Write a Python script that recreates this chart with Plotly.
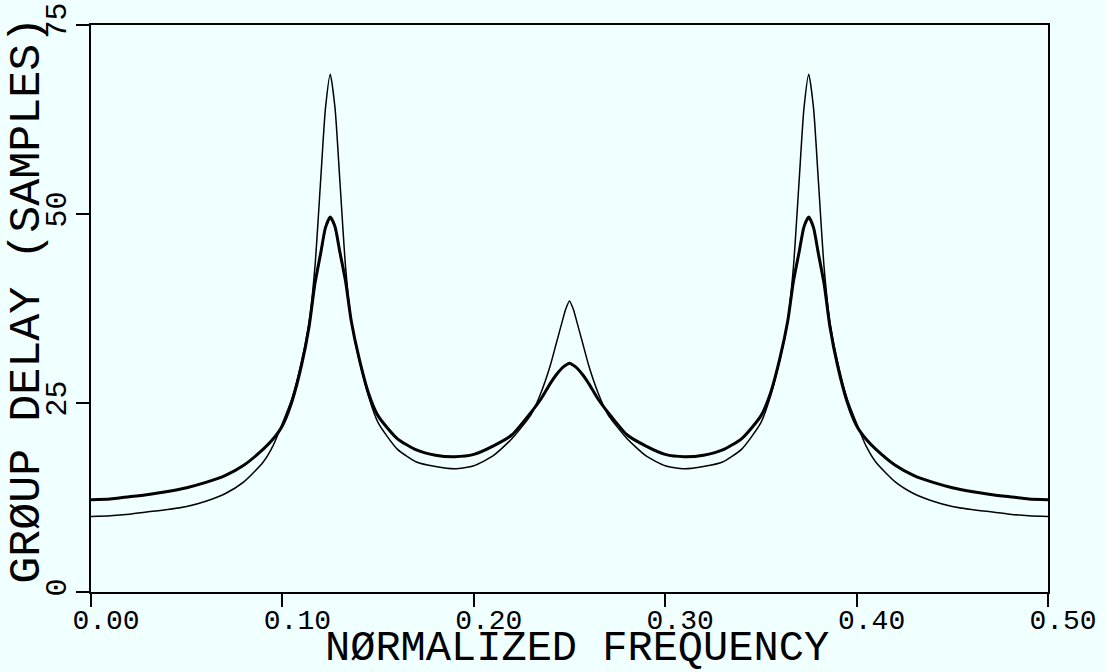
import plotly.graph_objects as go

# Normalized frequency sample positions
freq = [0.000, 0.010, 0.020, 0.030, 0.040, 0.050, 0.060, 0.070, 0.080, 0.090,
        0.095, 0.100, 0.105, 0.110, 0.114, 0.117, 0.120, 0.1225, 0.125, 0.1275,
        0.130, 0.133, 0.136, 0.140, 0.145, 0.150, 0.160, 0.170, 0.180, 0.190,
        0.200, 0.210, 0.220, 0.230, 0.235, 0.240, 0.243, 0.246, 0.248, 0.250,
        0.252, 0.254, 0.257, 0.260, 0.265, 0.270, 0.280, 0.290, 0.300, 0.310,
        0.320, 0.330, 0.340, 0.350, 0.355, 0.360, 0.364, 0.367, 0.370, 0.3725,
        0.375, 0.3775, 0.380, 0.383, 0.386, 0.390, 0.395, 0.400, 0.405, 0.410,
        0.420, 0.430, 0.440, 0.450, 0.460, 0.470, 0.480, 0.490, 0.500]

# Thin curve (group delay, samples)
delay_thin = [10.0, 10.1, 10.3, 10.6, 10.9, 11.3, 12.0, 13.0, 14.6, 17.2,
              19.3, 22.3, 25.6, 30.5, 35.8, 43.0, 54.5, 64.0, 68.5, 64.0,
              54.5, 43.0, 35.8, 30.8, 25.9, 22.4, 18.9, 17.2, 16.6, 16.3,
              16.7, 18.0, 20.3, 23.5, 26.3, 30.0, 32.8, 35.6, 37.4, 38.5,
              37.4, 35.6, 32.8, 30.0, 26.3, 23.5, 20.3, 18.0, 16.7, 16.3,
              16.6, 17.2, 18.9, 22.4, 25.9, 30.8, 35.8, 43.0, 54.5, 64.0,
              68.5, 64.0, 54.5, 43.0, 35.8, 30.5, 25.6, 22.3, 19.3, 17.2,
              14.6, 13.0, 12.0, 11.3, 10.9, 10.6, 10.3, 10.1, 10.0]

# Thick curve (group delay, samples)
delay_thick = [12.2, 12.3, 12.6, 12.9, 13.3, 13.8, 14.5, 15.4, 16.8, 18.9,
               20.2, 22.0, 25.2, 30.0, 35.2, 40.8, 44.8, 48.2, 49.6, 48.3,
               45.0, 41.1, 35.8, 31.0, 26.3, 23.3, 20.3, 18.8, 18.1, 17.9,
               18.2, 19.3, 20.8, 23.8, 25.5, 27.6, 28.7, 29.6, 30.0, 30.25,
               30.0, 29.6, 28.7, 27.6, 25.5, 23.8, 20.8, 19.3, 18.2, 17.9,
               18.1, 18.8, 20.3, 23.3, 26.3, 31.0, 35.8, 41.1, 45.0, 48.3,
               49.6, 48.2, 44.8, 40.8, 35.2, 30.0, 25.2, 22.0, 20.2, 18.9,
               16.8, 15.4, 14.5, 13.8, 13.3, 12.9, 12.6, 12.3, 12.2]

x_ticks = [0.0, 0.1, 0.2, 0.3, 0.4, 0.5]
x_tick_labels = ["0.00", "0.10", "0.20", "0.30", "0.40", "0.50"]
y_ticks = [0, 25, 50, 75]
y_tick_labels = ["0", "25", "50", "75"]
x_title = "NØRMALIZED FREQUENCY"
y_title = "GRØUP DELAY (SAMPLES)"

BG = "rgb(240,255,255)"
FONT = "Liberation Mono"

fig = go.Figure()
fig.add_trace(go.Scatter(x=freq, y=delay_thin, mode="lines",
                         line=dict(color="black", width=1.5, shape="spline", smoothing=0.6),
                         showlegend=False, hoverinfo="x+y"))
fig.add_trace(go.Scatter(x=freq, y=delay_thick, mode="lines",
                         line=dict(color="black", width=3.0, shape="spline", smoothing=0.6),
                         showlegend=False, hoverinfo="x+y"))

fig.update_layout(
    width=1106, height=672,
    paper_bgcolor=BG, plot_bgcolor=BG,
    margin=dict(l=91, r=58, t=25, b=80),
    font=dict(family=FONT, color="black"),
    xaxis=dict(range=[0, 0.5], tickvals=x_ticks, ticktext=x_tick_labels,
               ticks="outside", ticklen=13, tickwidth=1.5, tickcolor="black",
               showline=True, linecolor="black", linewidth=1.5, mirror=True,
               showgrid=False, zeroline=False, ticklabelshift=15, ticklabelstandoff=-11,
               automargin=False,
               tickfont=dict(size=28, family=FONT)),
    yaxis=dict(range=[0, 75], tickvals=y_ticks, ticktext=y_tick_labels,
               ticks="outside", ticklen=13, tickwidth=1.5, tickcolor="black",
               showline=True, linecolor="black", linewidth=1.5, mirror=True,
               showgrid=False, zeroline=False, tickangle=-90, ticklabelstandoff=-2,
               automargin=False,
               tickfont=dict(size=30, family=FONT)),
    annotations=[
        dict(text=x_title, xref="paper", yref="paper", x=0.508, y=-80 / 567,
             xanchor="center", yanchor="bottom", showarrow=False, borderpad=0,
             yshift=-2, font=dict(size=42, family=FONT, color="black")),
        dict(text=y_title, xref="paper", yref="paper", x=-0.066, y=0.515,
             xanchor="center", yanchor="middle", showarrow=False, textangle=-90,
             font=dict(size=45, family=FONT, color="black")),
    ],
)

fig.write_html("out.html", config={"displayModeBar": False},
               post_script="document.body.style.margin='0';")
